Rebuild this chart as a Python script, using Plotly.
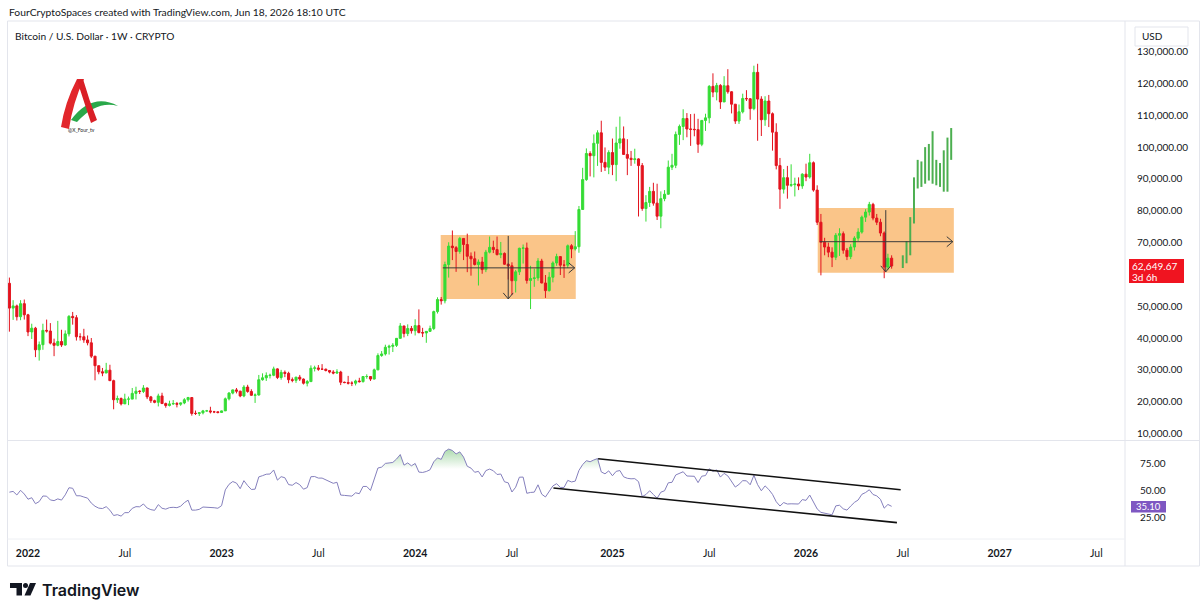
import numpy as np
import pandas as pd
import plotly.graph_objects as go

# ---------------- data: weekly BTC/USD candles, prices in thousands of USD ----------------
first_open_k = 57.2   # open of the first visible weekly candle (week of 2021-11-29)

close_2021 = [49.4, 50.1, 46.7, 50.8, 47.3]
high_2021 = [59.0, 51.9, 50.5, 51.9, 52.1]
low_2021 = [42.0, 45.7, 45.5, 45.6, 45.8]

close_2022 = [41.9, 43.1, 36.3, 37.9, 42.4, 42.2, 38.4, 37.7, 38.9, 37.8, 41.3, 46.8, 46.4,
              40.4, 40.4, 39.4, 38.5, 34.3, 31.3, 29.4, 29.0, 29.9, 26.6, 20.6, 21.0, 19.3,
              20.8, 20.8, 22.6, 23.3, 23.2, 24.3, 21.5, 20.3, 19.8, 21.8, 19.4, 18.8, 19.3,
              19.4, 19.2, 19.6, 20.6, 21.3, 16.3, 16.3, 16.5, 17.1, 17.1, 16.8, 16.8, 16.6]
high_2022 = [47.6, 44.5, 43.5, 38.9, 44.5, 45.8, 44.7, 39.8, 45.4, 42.6, 42.4, 47.2, 48.2,
             47.2, 41.5, 42.9, 40.8, 40.0, 34.2, 30.7, 30.6, 32.2, 31.6, 26.9, 21.9, 21.3,
             22.5, 21.6, 24.3, 24.7, 23.6, 25.2, 24.4, 21.8, 20.6, 22.5, 22.8, 19.7, 20.3,
             20.5, 19.9, 19.7, 21.1, 21.5, 21.1, 17.2, 16.7, 17.4, 17.4, 18.4, 17.1, 16.9]
low_2022 = [40.6, 39.7, 34.0, 32.9, 36.3, 41.7, 38.0, 34.3, 37.4, 37.2, 37.6, 40.5, 44.2,
            39.2, 39.2, 38.5, 37.7, 33.7, 26.7, 28.6, 28.0, 29.3, 26.6, 17.6, 19.6, 18.8,
            19.3, 18.9, 21.0, 20.7, 22.4, 22.7, 20.8, 19.6, 19.5, 18.5, 19.3, 18.1, 18.5,
            19.0, 18.2, 18.7, 19.2, 20.0, 15.6, 15.8, 15.5, 16.0, 16.9, 16.3, 16.4, 16.3]

close_2023 = [17.1, 20.9, 22.7, 23.7, 23.3, 21.8, 24.6, 23.2, 22.0, 22.1, 26.9, 27.5, 28.2,
              28.3, 30.3, 27.6, 29.2, 28.9, 26.9, 26.7, 27.7, 27.1, 25.8, 26.3, 30.5, 30.6,
              30.2, 30.2, 29.8, 29.3, 29.0, 29.3, 26.1, 26.0, 25.8, 25.8, 26.5, 26.3, 27.9,
              27.9, 27.1, 30.0, 34.5, 35.0, 37.1, 37.4, 37.7, 39.9, 43.8, 41.4, 43.0, 42.3]
high_2023 = [17.2, 21.3, 23.0, 23.8, 24.3, 23.4, 25.2, 25.3, 23.9, 22.6, 28.4, 28.9, 29.2,
             28.8, 31.0, 30.5, 30.0, 29.8, 29.4, 27.6, 27.8, 28.4, 27.3, 26.8, 31.4, 31.3,
             31.5, 31.8, 30.4, 29.8, 29.9, 30.2, 29.7, 26.3, 28.1, 26.4, 26.9, 27.5, 28.0,
             28.6, 27.9, 30.4, 35.2, 35.9, 37.9, 37.9, 38.4, 40.0, 44.7, 43.4, 44.3, 43.8]
low_2023 = [16.5, 17.3, 20.4, 22.3, 22.6, 21.4, 21.4, 22.8, 21.9, 19.6, 21.9, 26.6, 26.5,
            27.3, 28.0, 27.1, 26.9, 27.7, 25.8, 26.1, 25.9, 26.5, 25.4, 24.8, 26.2, 29.5,
            29.7, 30.0, 29.5, 28.9, 28.6, 28.7, 25.2, 25.8, 25.4, 24.9, 25.1, 26.0, 26.0,
            27.2, 26.5, 27.0, 29.9, 34.1, 34.5, 34.8, 35.6, 37.2, 39.9, 40.2, 40.6, 41.4]

close_2024 = [43.9, 41.7, 41.6, 42.1, 43.0, 48.3, 52.1, 51.7, 63.1, 68.9, 68.4, 67.2, 71.3,
              69.4, 65.7, 64.9, 63.1, 63.9, 61.5, 67.0, 68.5, 67.8, 66.2, 66.6, 63.2, 62.7,
              58.0, 60.8, 68.2, 68.3, 58.1, 58.7, 58.9, 64.2, 57.3, 54.9, 59.1, 63.6, 65.6,
              62.9, 62.9, 69.0, 68.0, 68.7, 80.4, 89.8, 98.0, 97.3, 101.2, 104.5, 95.2, 93.7, 98.3]
high_2024 = [45.9, 49.0, 43.2, 42.2, 43.9, 48.6, 52.8, 52.9, 64.0, 70.1, 73.8, 68.9, 71.8,
             71.3, 72.8, 66.9, 67.2, 64.7, 65.5, 67.7, 71.9, 70.6, 71.9, 70.2, 66.9, 63.4,
             63.8, 61.4, 68.4, 69.4, 70.0, 62.7, 61.8, 65.1, 64.9, 59.8, 60.7, 64.1, 66.5,
             64.5, 64.5, 69.4, 69.5, 73.6, 81.5, 93.5, 99.6, 98.7, 104.0, 105.3, 108.3, 99.9, 99.0]
low_2024 = [40.8, 41.5, 40.3, 38.5, 41.9, 42.5, 47.7, 50.5, 50.9, 59.0, 64.5, 60.8, 66.5,
            64.5, 60.7, 59.6, 62.8, 56.5, 60.2, 60.7, 66.6, 66.7, 66.0, 65.1, 63.0, 58.4,
            53.5, 54.3, 59.8, 63.4, 57.1, 49.1, 56.1, 58.0, 57.2, 52.6, 54.6, 57.5, 62.7,
            59.8, 58.9, 62.0, 65.1, 67.5, 66.8, 80.3, 89.4, 90.8, 90.5, 94.1, 92.2, 92.5, 91.5]

close_2025 = [94.5, 101.3, 102.6, 97.7, 96.5, 96.1, 96.3, 94.2, 80.7, 82.6, 86.1, 82.4, 78.3,
              83.8, 85.2, 93.7, 94.3, 104.0, 106.5, 109.0, 105.7, 105.6, 105.5, 100.9, 108.4,
              109.2, 119.1, 117.3, 119.4, 114.2, 119.3, 117.4, 113.5, 108.2, 111.1, 115.3, 115.2,
              112.1, 123.5, 115.1, 108.6, 114.5, 110.5, 104.7, 94.2, 86.8, 90.4, 88.0, 88.2, 88.4,
              87.8, 91.5]
high_2025 = [102.7, 106.4, 109.6, 106.5, 102.5, 98.8, 99.5, 96.5, 95.0, 84.9, 87.5, 88.8, 88.5,
             86.1, 86.5, 95.8, 97.9, 104.9, 107.1, 111.9, 110.7, 110.4, 110.5, 108.9, 108.5,
             110.5, 119.5, 123.2, 120.2, 119.8, 122.3, 124.5, 117.6, 113.5, 113.4, 116.8, 117.9,
             115.4, 125.6, 126.2, 116.0, 116.0, 116.4, 110.9, 107.5, 96.6, 93.1, 94.1, 94.6, 90.4,
             90.5, 91.8]
low_2025 = [91.2, 89.3, 99.5, 97.7, 91.2, 94.1, 94.8, 78.2, 80.0, 76.6, 81.2, 81.6, 77.1,
            74.5, 83.0, 85.1, 92.8, 93.4, 100.7, 102.2, 103.1, 100.4, 103.4, 98.2, 100.3,
            105.1, 107.5, 115.7, 114.7, 112.0, 114.3, 116.8, 110.6, 107.3, 107.3, 110.6, 114.5,
            108.6, 111.6, 102.0, 103.5, 106.7, 106.3, 98.9, 93.0, 80.6, 85.4, 83.8, 87.5, 84.5,
            86.5, 86.9]

close_2026 = [90.6, 95.1, 86.5, 76.4, 70.1, 68.6, 67.0, 65.4, 72.3, 72.8, 67.6, 65.6, 68.6,
              71.4, 73.3, 78.0, 79.6, 82.0, 77.7, 76.4, 73.0, 62.3, 65.1, 62.64967]
high_2026 = [94.8, 97.9, 95.5, 88.0, 79.0, 71.5, 70.0, 68.5, 73.0, 74.5, 73.5, 68.3, 69.5,
             72.0, 74.5, 78.5, 80.5, 82.8, 82.5, 79.0, 77.5, 73.5, 66.5, 66.0]
low_2026 = [89.3, 90.1, 86.0, 75.5, 59.7, 66.0, 65.4, 62.3, 64.5, 65.8, 66.5, 64.5, 64.8,
            67.5, 70.5, 72.8, 76.5, 78.5, 77.0, 75.5, 72.0, 58.8, 61.5, 61.8]

# earlier weekly closes (Jan-Nov 2021), only used to warm up the RSI(14)
rsi_history_close_k = [38.2, 36.0, 32.3, 34.3, 39.3, 48.6, 57.5, 45.2, 51.2, 59.0, 57.4, 55.8,
                       57.1, 60.0, 56.2, 49.1, 57.8, 58.2, 46.4, 34.7, 35.7, 35.8, 40.5, 35.5,
                       34.7, 35.3, 34.2, 31.8, 35.4, 39.9, 44.6, 47.0, 49.3, 47.1, 51.8, 48.3,
                       47.3, 42.7, 48.2, 54.9, 61.5, 60.9, 61.3, 63.3, 65.5, 59.7, 57.2]

# projected "bars pattern" (high/low per week, starting week of 2026-07-06)
proj_high_k = [66.0, 70.5, 78.0, 90.5, 96.0, 95.5, 100.0, 101.0, 105.0, 96.0, 95.0, 99.0, 103.0, 106.0]
proj_low_k = [62.0, 63.5, 66.0, 76.0, 87.0, 87.5, 88.5, 89.5, 88.5, 88.0, 87.5, 86.0, 86.0, 96.0]

# drawings (date, price) anchors
rect1 = dict(x0="2024-02-18", x1="2024-10-29", y0=52270, y1=72380)
rect2 = dict(x0="2026-01-27", x1="2026-10-10", y0=60500, y1=80870)
harrow1 = dict(x0="2024-02-22", x1="2024-10-27", y=62050)
varrow1 = dict(x="2024-06-24", y0=72100, y1=52300)
harrow2 = dict(x0="2026-01-31", x1="2026-10-08", y=70280)
varrow2 = dict(x="2026-06-04", y0=80200, y1=60800)
rsi_upper = dict(x0="2024-12-10", y0=79.6, x1="2026-07-02", y1=50.9)
rsi_lower = dict(x0="2024-09-17", y0=52.5, x1="2026-06-25", y1=20.4)

price_ticks = [10000, 20000, 30000, 40000, 50000, 60000, 70000, 80000, 90000, 100000,
               110000, 120000, 130000]
price_tick_hidden = [60000]  # covered by the last-price label
rsi_ticks = [25, 50, 75]
x_tickvals = ["2022-01-03", "2022-07-04", "2023-01-02", "2023-07-03", "2024-01-01", "2024-07-01",
              "2025-01-06", "2025-07-07", "2026-01-05", "2026-07-06", "2027-01-04", "2027-07-05"]
x_ticktext = ["<b>2022</b>", "Jul", "<b>2023</b>", "Jul", "<b>2024</b>", "Jul",
              "<b>2025</b>", "Jul", "<b>2026</b>", "Jul", "<b>2027</b>", "Jul"]
last_price_text = "62,649.67"
countdown_text = "3d 6h"
rsi_last_text = "35.10"

# ---------------- assemble ----------------
close_k = close_2021 + close_2022 + close_2023 + close_2024 + close_2025 + close_2026
high_k = high_2021 + high_2022 + high_2023 + high_2024 + high_2025 + high_2026
low_k = low_2021 + low_2022 + low_2023 + low_2024 + low_2025 + low_2026
assert len(close_k) == len(high_k) == len(low_k) == 238
open_k = [first_open_k] + close_k[:-1]

o = np.array(open_k) * 1000
c = np.array(close_k) * 1000
h = np.maximum.reduce([np.array(high_k) * 1000, o, c])
lo = np.minimum.reduce([np.array(low_k) * 1000, o, c])
dates = pd.date_range("2021-11-29", periods=len(close_k), freq="7D")
proj_dates = pd.date_range("2026-07-06", periods=len(proj_high_k), freq="7D")

# RSI(14), Wilder smoothing
allc = np.array(rsi_history_close_k + close_k)
d = np.diff(allc)
g = np.clip(d, 0, None)
ls = np.clip(-d, 0, None)
n = 14
ag = np.full(len(d), np.nan)
al = np.full(len(d), np.nan)
ag[n - 1] = g[:n].mean()
al[n - 1] = ls[:n].mean()
for i in range(n, len(d)):
    ag[i] = (ag[i - 1] * (n - 1) + g[i]) / n
    al[i] = (al[i - 1] * (n - 1) + ls[i]) / n
rsi_all = 100 - 100 / (1 + ag / al)
rsi = rsi_all[-len(close_k):]

# ---------------- geometry ----------------
W, H = 1200, 615
ML, MR, MT, MB = 8, 75, 22, 77
PW, PH = W - ML - MR, H - MT - MB
PANE_SPLIT_Y = 440


def px(x):
    return (x - ML) / PW


def py(y):
    return (H - MB - y) / PH


split = py(PANE_SPLIT_Y)
base = pd.Timestamp("2021-11-29")
WEEK_PX = 3.7225
xr = [base + pd.Timedelta(days=7 * (ML - 9.4) / WEEK_PX),
      base + pd.Timedelta(days=7 * (W - MR - 9.4) / WEEK_PX)]

UP = "#35dc35"
DN = "#e3141e"
FONT = "Lato"
TXT = "#131722"

fig = go.Figure()

fig.add_trace(go.Candlestick(
    x=dates, open=o, high=h, low=lo, close=c,
    increasing=dict(line=dict(color=UP, width=1), fillcolor=UP),
    decreasing=dict(line=dict(color=DN, width=1), fillcolor=DN),
    whiskerwidth=0, hoverinfo="skip", xaxis="x", yaxis="y", showlegend=False))

# projected bars
bx, by = [], []
for dt, hh, ll in zip(proj_dates, proj_high_k, proj_low_k):
    bx += [dt, dt, None]
    by += [ll * 1000, hh * 1000, None]
fig.add_trace(go.Scatter(x=bx, y=by, mode="lines", line=dict(color="#4caf50", width=2),
                         hoverinfo="skip", xaxis="x", yaxis="y", showlegend=False))

# RSI overbought fill
fig.add_trace(go.Scatter(x=dates, y=np.full(len(rsi), 70.0), mode="lines",
                         line=dict(width=0, color="rgba(0,0,0,0)"), hoverinfo="skip",
                         xaxis="x2", yaxis="y2", showlegend=False))
fig.add_trace(go.Scatter(x=dates, y=np.maximum(rsi, 70.0), mode="lines",
                         line=dict(width=0, color="rgba(0,0,0,0)"), fill="tonexty",
                         fillgradient=dict(type="vertical", start=70, stop=92,
                                           colorscale=[[0, "rgba(76,175,80,0.0)"],
                                                       [1, "rgba(76,175,80,0.55)"]]),
                         hoverinfo="skip", xaxis="x2", yaxis="y2", showlegend=False))
fig.add_trace(go.Scatter(x=dates, y=rsi, mode="lines", line=dict(color="#8580bd", width=1),
                         hoverinfo="skip", xaxis="x2", yaxis="y2", showlegend=False))

shapes = []
# orange boxes
for r in (rect1, rect2):
    shapes.append(dict(type="rect", xref="x", yref="y", x0=r["x0"], x1=r["x1"], y0=r["y0"], y1=r["y1"],
                       fillcolor="rgba(246,150,40,0.55)", line=dict(width=0), layer="below"))
ARC = "#3b3b3b"
for a in (harrow1, harrow2):
    shapes.append(dict(type="line", xref="x", yref="y", x0=a["x0"], x1=a["x1"], y0=a["y"], y1=a["y"],
                       line=dict(color=ARC, width=1)))
    shapes.append(dict(type="path", xref="x", yref="y", xsizemode="pixel", ysizemode="pixel",
                       xanchor=a["x1"], yanchor=a["y"], path="M -6,5 L 0,0 L -6,-5",
                       line=dict(color=ARC, width=1)))
for a in (varrow1, varrow2):
    shapes.append(dict(type="line", xref="x", yref="y", x0=a["x"], x1=a["x"], y0=a["y0"], y1=a["y1"],
                       line=dict(color=ARC, width=1)))
    shapes.append(dict(type="path", xref="x", yref="y", xsizemode="pixel", ysizemode="pixel",
                       xanchor=a["x"], yanchor=a["y1"], path="M -5,6 L 0,0 L 5,6",
                       line=dict(color=ARC, width=1)))
# RSI channel
for ln in (rsi_upper, rsi_lower):
    shapes.append(dict(type="line", xref="x2", yref="y2", x0=ln["x0"], y0=ln["y0"], x1=ln["x1"], y1=ln["y1"],
                       line=dict(color="#111111", width=1.6)))

FR = "#e3e5ec"
# frame & separators
shapes.append(dict(type="rect", xref="paper", yref="paper", x0=px(7.5), x1=px(1199.5), y0=py(21), y1=py(566),
                   line=dict(color=FR, width=1), fillcolor="rgba(0,0,0,0)", layer="above"))
shapes.append(dict(type="line", xref="paper", yref="paper", x0=px(1125), x1=px(1125), y0=py(21), y1=py(566),
                   line=dict(color=FR, width=1)))
shapes.append(dict(type="line", xref="paper", yref="paper", x0=px(7.5), x1=px(1199.5), y0=py(440.5), y1=py(440.5),
                   line=dict(color=FR, width=1)))
shapes.append(dict(type="line", xref="paper", yref="paper", x0=px(7.5), x1=px(1125), y0=py(539), y1=py(539),
                   line=dict(color="#eef0f4", width=1)))

# USD box
shapes.append(dict(type="rect", xref="paper", yref="paper", x0=px(1135), x1=px(1188), y0=py(27), y1=py(46),
                   fillcolor="white", line=dict(color=FR, width=1), layer="above"))
# last price box
shapes.append(dict(type="rect", xref="paper", yref="paper", x0=px(1129), x1=px(1184), y0=py(259), y1=py(283),
                   fillcolor="#f01420", line=dict(width=0), layer="above"))
# RSI value box
shapes.append(dict(type="rect", xref="paper", yref="paper", x0=px(1131), x1=px(1166), y0=py(501), y1=py(512.5),
                   fillcolor="#7e57c2", line=dict(width=0), layer="above"))


def ppath(cmds):
    out = []
    for cmd in cmds:
        op, pts = cmd[0], cmd[1:]
        out.append(op + " ".join(f"{px(x):.5f},{py(y):.5f}" for x, y in pts))
    return " ".join(out) + " Z"


# author logo (red A with green swoosh)
shapes.append(dict(type="path", xref="paper", yref="paper", layer="above", line=dict(width=0),
                   fillcolor="#2aa84a",
                   path=ppath([("M", (71, 120)), ("Q", (92, 92), (118, 106)), ("Q", (97, 100), (77, 122))])))
shapes.append(dict(type="path", xref="paper", yref="paper", layer="above", line=dict(width=0),
                   fillcolor="#e2262b",
                   path=ppath([("M", (61, 127)), ("Q", (65, 102), (77, 79)), ("L", (84, 79)),
                               ("Q", (73, 102), (69, 129))])))
shapes.append(dict(type="path", xref="paper", yref="paper", layer="above", line=dict(width=0),
                   fillcolor="#d91f26",
                   path=ppath([("M", (77, 80)), ("L", (83, 79)), ("Q", (89, 100), (97, 120)),
                               ("L", (91, 123)), ("Q", (84, 102), (77, 80))])))
# TradingView logo mark
shapes.append(dict(type="path", xref="paper", yref="paper", layer="above", line=dict(width=0),
                   fillcolor=TXT,
                   path=ppath([("M", (10, 583)), ("L", (22, 583)), ("L", (22, 595.5)), ("L", (16.5, 595.5)),
                               ("L", (16.5, 588)), ("L", (10, 588))])))
shapes.append(dict(type="circle", xref="paper", yref="paper", layer="above", line=dict(width=0),
                   fillcolor=TXT, x0=px(23), x1=px(28), y0=py(583), y1=py(588)))
shapes.append(dict(type="path", xref="paper", yref="paper", layer="above", line=dict(width=0),
                   fillcolor=TXT,
                   path=ppath([("M", (30, 583)), ("L", (36, 583)), ("L", (30.5, 595.5)), ("L", (24.5, 595.5))])))

annotations = [
    dict(text="FourCryptoSpaces created with TradingView.com, Jun 18, 2026 18:10 UTC",
         x=px(8), y=py(12), xanchor="left", yanchor="middle", font=dict(size=10.3, color=TXT)),
    dict(text="Bitcoin / U.S. Dollar · 1W · CRYPTO",
         x=px(14), y=py(36), xanchor="left", yanchor="middle", font=dict(size=10.2, color=TXT)),
    dict(text="USD", x=px(1141), y=py(36), xanchor="left", yanchor="middle", font=dict(size=10, color=TXT)),
    dict(text=last_price_text, x=px(1131), y=py(266), xanchor="left", yanchor="middle",
         font=dict(size=10, color="white")),
    dict(text=countdown_text, x=px(1131), y=py(277), xanchor="left", yanchor="middle",
         font=dict(size=10, color="white")),
    dict(text=rsi_last_text, x=px(1148.5), y=py(506.7), xanchor="center", yanchor="middle",
         font=dict(size=9.5, color="white")),
    dict(text="@X_Four_tv", x=px(81), y=py(130), xanchor="center", yanchor="middle",
         font=dict(size=5, color="#222222")),
    dict(text="TradingView", x=px(41), y=py(589.5), xanchor="left", yanchor="middle",
         font=dict(size=16, color=TXT, family="Inter", weight=600)),
]
for a in annotations:
    a.update(xref="paper", yref="paper", showarrow=False, borderpad=0)

price_text = ["" if v in price_tick_hidden else f"{v:,.2f}" for v in price_ticks]

fig.update_layout(
    template="none",
    width=W, height=H,
    margin=dict(l=ML, r=MR, t=MT, b=MB, pad=0),
    paper_bgcolor="white", plot_bgcolor="white",
    showlegend=False, hovermode=False,
    boxgap=0.25, boxgroupgap=0.25,
    font=dict(family=FONT, size=10, color=TXT),
    xaxis=dict(domain=[0, 1], anchor="y", range=xr, type="date", showticklabels=False,
               showgrid=False, zeroline=False, showline=False, ticks="",
               rangeslider=dict(visible=False), automargin=False),
    xaxis2=dict(domain=[0, 1], anchor="y2", range=xr, type="date", tickmode="array",
                tickvals=x_tickvals, ticktext=x_ticktext, showgrid=False, zeroline=False,
                showline=False, ticks="", ticklabelstandoff=7, automargin=False,
                tickfont=dict(size=10.5, color=TXT)),
    yaxis=dict(domain=[split, 1], anchor="x", side="right", range=[7950, 139330],
               tickmode="array", tickvals=price_ticks, ticktext=price_text,
               showgrid=False, zeroline=False, showline=False, ticks="", ticklabelstandoff=11,
               automargin=False, tickfont=dict(size=10, color=TXT)),
    yaxis2=dict(domain=[0, split], anchor="x2", side="right", range=[6.2, 96.9],
                tickmode="array", tickvals=rsi_ticks, ticktext=[f"{v:.2f}" for v in rsi_ticks],
                showgrid=False, zeroline=False, showline=False, ticks="", ticklabelstandoff=14,
                automargin=False, tickfont=dict(size=10, color=TXT)),
    shapes=shapes,
    annotations=annotations,
)

fig.write_html("out.html")
